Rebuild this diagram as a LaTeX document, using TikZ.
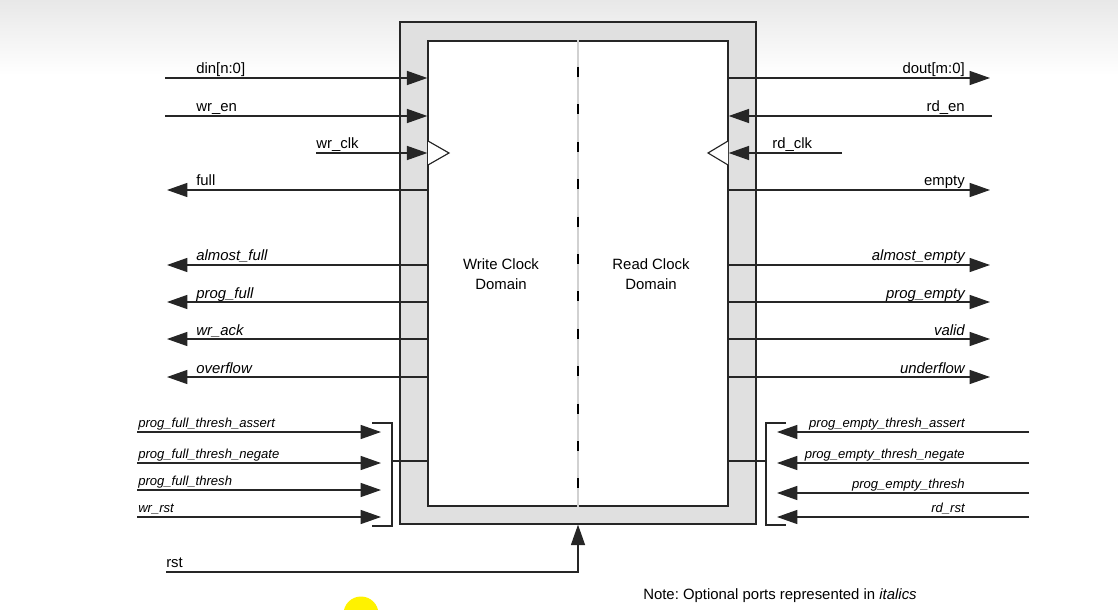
\documentclass[tikz,border=0pt]{standalone}
\usepackage{fontspec}
\setmainfont{Liberation Sans}
\usetikzlibrary{arrows.meta}
\frenchspacing

\begin{document}
\begin{tikzpicture}[x=0.025cm,y=-0.025cm,
  sig/.style={line width=0.9pt,draw=black!85,-{Triangle[length=14.5pt,width=10pt]}},
  wire/.style={line width=0.9pt,draw=black!85},
  port/.style={inner sep=0pt,font=\fontsize{10.6}{12}\selectfont},
  opt/.style={inner sep=0pt,font=\fontsize{10.6}{12}\selectfont\itshape},
  thr/.style={inner sep=0pt,font=\fontsize{9.3}{11}\selectfont\itshape},
  clk/.style={draw=black!85,line width=0.8pt,fill=white},
  dom/.style={align=center,font=\fontsize{10.6}{14.2}\selectfont}]
\useasboundingbox (0,0) rectangle (1118,610);
\clip (0,0) rectangle (1118,610);
\shade[top color=black!9,bottom color=white] (0,0) rectangle (1118,75);

% fifo block
\node[draw=black!85,line width=0.9pt,fill=black!12,minimum width=8.9cm,minimum height=12.55cm,inner sep=0pt] (fifo) at (578,273) {};
\node[draw=black!85,line width=0.9pt,fill=white,minimum width=7.5cm,minimum height=11.625cm,inner sep=0pt] (core) at (578,273.5) {};
\draw[black!18,line width=1pt] (core.north) -- (core.south);
\foreach \k in {0,...,11}
  \draw[line width=1.3pt] (578,{67+37.4*\k}) -- ++(0,10);
\node[dom] (wrdom) at (501,274) {Write Clock\\Domain};
\node[dom] (rddom) at (651,274) {Read Clock\\Domain};

% write side
\coordinate (din) at (165,78);
\coordinate (wren) at (165,116);
\coordinate (wrclk) at (316,153);
\coordinate (full) at (167,190);
\coordinate (afull) at (167,265);
\coordinate (pfull) at (167,302);
\coordinate (wrack) at (167,339);
\coordinate (ovf) at (167,377);
\draw[sig] (din) -- (din -| core.west);
\draw[sig] (wren) -- (wren -| core.west);
\draw[sig] (wrclk) -- (wrclk -| core.west);
\draw[sig] (full -| core.west) -- (full);
\draw[sig] (afull -| core.west) -- (afull);
\draw[sig] (pfull -| core.west) -- (pfull);
\draw[sig] (wrack -| core.west) -- (wrack);
\draw[sig] (ovf -| core.west) -- (ovf);
\draw[clk] (428,141) -- (449,153) -- (428,165);
\node[port,anchor=base west] (dinl) at (196,74) {din[n:0]};
\node[port,anchor=base west] (wrenl) at (196,112) {wr\_en};
\node[port,anchor=base west] (wrclkl) at (316,149) {wr\_clk};
\node[port,anchor=base west] (fulll) at (196,186) {full};
\node[opt,anchor=base west] (afulll) at (196,261) {almost\_full};
\node[opt,anchor=base west] (pfulll) at (196,298) {prog\_full};
\node[opt,anchor=base west] (wrackl) at (196,335) {wr\_ack};
\node[opt,anchor=base west] (ovfl) at (196,373) {overflow};

% write side thresholds
\coordinate (wtip) at (381,0);
\coordinate (wbrk) at (392,461);
\coordinate (pfta) at (137,432);
\coordinate (pftn) at (137,463);
\coordinate (pft) at (137,490);
\coordinate (wrrst) at (137,517);
\draw[sig] (pfta) -- (pfta -| wtip);
\draw[sig] (pftn) -- (pftn -| wtip);
\draw[sig] (pft) -- (pft -| wtip);
\draw[sig] (wrrst) -- (wrrst -| wtip);
\draw[wire] (372,423) -- (392,423) -- (392,526) -- (372,526);
\draw[wire] (wbrk) -- (wbrk -| core.west);
\node[thr,anchor=base west] (pftal) at (138,427) {prog\_full\_thresh\_assert};
\node[thr,anchor=base west] (pftnl) at (138,458) {prog\_full\_thresh\_negate};
\node[thr,anchor=base west] (pftl) at (138,485) {prog\_full\_thresh};
\node[thr,anchor=base west] (wrrstl) at (138,512) {wr\_rst};

% read side
\coordinate (dout) at (990,78);
\coordinate (rden) at (992,116);
\coordinate (rdclk) at (842,153);
\coordinate (empty) at (990,190);
\coordinate (aempty) at (990,265);
\coordinate (pempty) at (990,302);
\coordinate (valid) at (990,339);
\coordinate (udf) at (990,377);
\draw[sig] (dout -| core.east) -- (dout);
\draw[sig] (rden) -- (rden -| core.east);
\draw[sig] (rdclk) -- (rdclk -| core.east);
\draw[sig] (empty -| core.east) -- (empty);
\draw[sig] (aempty -| core.east) -- (aempty);
\draw[sig] (pempty -| core.east) -- (pempty);
\draw[sig] (valid -| core.east) -- (valid);
\draw[sig] (udf -| core.east) -- (udf);
\draw[clk] (728,141) -- (708,153) -- (728,165);
\node[port,anchor=base east] (doutl) at (965,74) {dout[m:0]};
\node[port,anchor=base east] (rdenl) at (965,112) {rd\_en};
\node[port,anchor=base west] (rdclkl) at (772,149) {rd\_clk};
\node[port,anchor=base east] (emptyl) at (965,186) {empty};
\node[opt,anchor=base east] (aemptyl) at (965,261) {almost\_empty};
\node[opt,anchor=base east] (pemptyl) at (965,298) {prog\_empty};
\node[opt,anchor=base east] (validl) at (965,335) {valid};
\node[opt,anchor=base east] (udfl) at (965,373) {underflow};

% read side thresholds
\coordinate (rtip) at (777,0);
\coordinate (rbrk) at (766,461);
\coordinate (peta) at (1029,432);
\coordinate (petn) at (1029,463);
\coordinate (pet) at (1029,493);
\coordinate (rdrst) at (1029,517);
\draw[sig] (peta) -- (peta -| rtip);
\draw[sig] (petn) -- (petn -| rtip);
\draw[sig] (pet) -- (pet -| rtip);
\draw[sig] (rdrst) -- (rdrst -| rtip);
\draw[wire] (786,423) -- (766,423) -- (766,525) -- (786,525);
\draw[wire] (rbrk) -- (rbrk -| core.east);
\node[thr,anchor=base east] (petal) at (965,427) {prog\_empty\_thresh\_assert};
\node[thr,anchor=base east] (petnl) at (965,458) {prog\_empty\_thresh\_negate};
\node[thr,anchor=base east] (petl) at (965,488) {prog\_empty\_thresh};
\node[thr,anchor=base east] (rdrstl) at (965,512) {rd\_rst};

% reset and note
\coordinate (rst) at (166,572);
\draw[sig] (rst) -| (fifo.south);
\node[port,anchor=base west] (rstl) at (166,567) {rst};
\node[port,anchor=base west] (note) at (643,599) {Note: Optional ports represented in \textit{italics}};
\fill[yellow] (361,614) circle[radius=0.4375cm];
\end{tikzpicture}
\end{document}
